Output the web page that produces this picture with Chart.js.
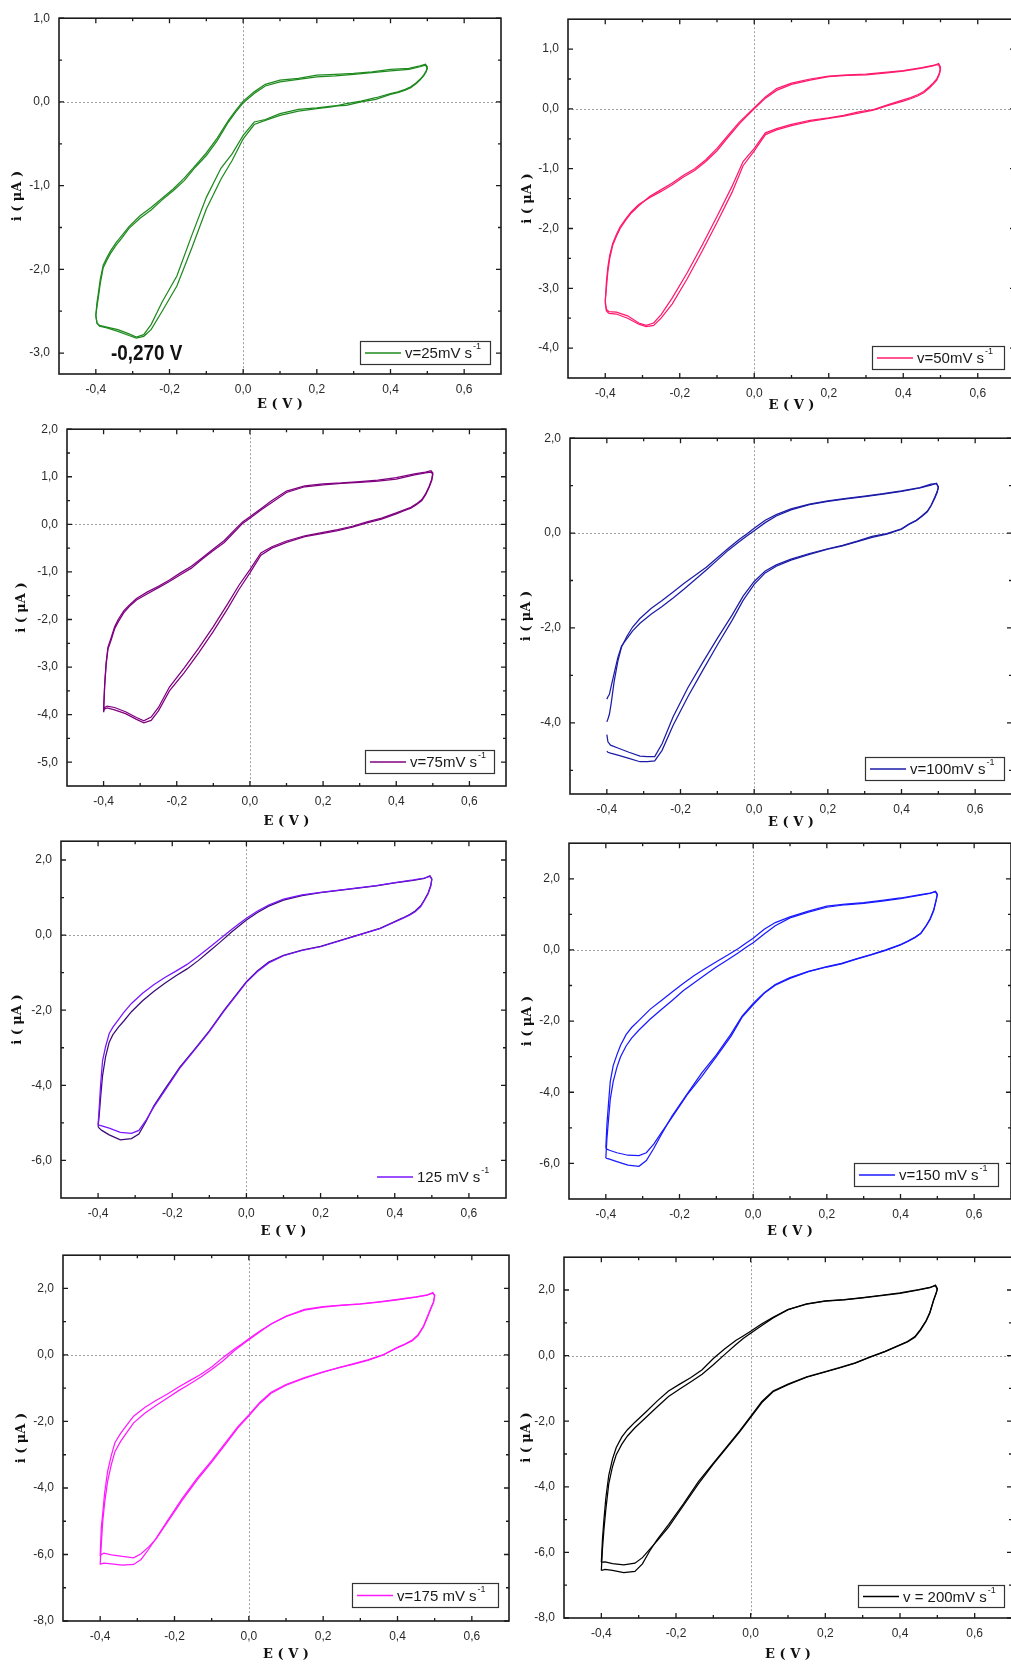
<!DOCTYPE html>
<html>
<head>
<meta charset="utf-8">
<script src="https://cdn.jsdelivr.net/npm/chart.js@4.4.1/dist/chart.umd.min.js"></script>
<style>
html, body { margin: 0; padding: 0; background: #fff; overflow: hidden; width: 1011px; height: 1666px; position: relative; }
canvas { position: absolute; }
</style>
</head>
<body>
<script>
// potential grid (V): forward sweep then reverse sweep
const eFwd = [-0.4, -0.397, -0.393, -0.388, -0.38, -0.37, -0.36, -0.345, -0.33, -0.31, -0.28, -0.25, -0.22, -0.19, -0.16, -0.13, -0.1,
  -0.07, -0.04, -0.02, 0, 0.03, 0.06, 0.1, 0.15, 0.2, 0.25, 0.3, 0.35, 0.4, 0.45, 0.48, 0.495];
const eRev = [0.5, 0.497, 0.49, 0.48, 0.47, 0.455, 0.44, 0.42, 0.4, 0.36, 0.32, 0.28, 0.24, 0.2, 0.15, 0.1, 0.06, 0.03, 0,
  -0.03, -0.06, -0.1, -0.14, -0.18, -0.22, -0.25, -0.27, -0.29, -0.31, -0.34, -0.37, -0.39, -0.397, -0.4];
const eLoop = eFwd.concat(eRev);

const xTicks = [-0.4, -0.2, 0, 0.2, 0.4, 0.6];
const xMinor = [-0.3, -0.1, 0.1, 0.3, 0.5];

// current (uA), two cycles per scan rate
const i25a = [-2.55,-2.45,-2.33,-2.17,-1.98,-1.89,-1.81,-1.71,-1.63,-1.51,-1.39,-1.29,-1.17,-1.06,-0.94,-0.78,-0.64,-0.46,-0.24,-0.12,-0.01,0.10,0.19,0.24,0.27,0.30,0.31,0.33,0.35,0.37,0.39,0.42,0.44,
  0.40,0.36,0.31,0.26,0.22,0.17,0.14,0.11,0.09,0.03,0.0,-0.04,-0.05,-0.07,-0.09,-0.14,-0.21,-0.24,-0.40,-0.62,-0.79,-1.14,-1.60,-2.08,-2.39,-2.66,-2.78,-2.81,-2.77,-2.72,-2.69,-2.67,-2.64,-2.55];
const i25b = [-2.55,-2.40,-2.28,-2.12,-1.95,-1.86,-1.78,-1.68,-1.60,-1.49,-1.36,-1.26,-1.15,-1.04,-0.91,-0.76,-0.61,-0.43,-0.22,-0.10,0.01,0.12,0.21,0.26,0.28,0.32,0.33,0.34,0.36,0.39,0.40,0.43,0.45,
  0.42,0.37,0.32,0.27,0.23,0.18,0.15,0.12,0.10,0.05,0.01,-0.02,-0.06,-0.08,-0.11,-0.16,-0.22,-0.27,-0.44,-0.70,-0.92,-1.28,-1.75,-2.20,-2.50,-2.72,-2.80,-2.82,-2.79,-2.74,-2.70,-2.68,-2.64,-2.55];

const i50a = [-3.20,-3.00,-2.72,-2.50,-2.28,-2.13,-2.00,-1.86,-1.74,-1.62,-1.46,-1.35,-1.24,-1.11,-1.00,-0.85,-0.66,-0.44,-0.22,-0.10,0.02,0.20,0.34,0.43,0.50,0.55,0.57,0.58,0.61,0.64,0.69,0.73,0.74,
  0.66,0.58,0.48,0.41,0.35,0.27,0.22,0.17,0.13,0.06,-0.02,-0.07,-0.12,-0.16,-0.21,-0.28,-0.35,-0.43,-0.70,-0.95,-1.40,-1.90,-2.38,-2.84,-3.26,-3.50,-3.62,-3.64,-3.60,-3.50,-3.43,-3.42,-3.38,-3.20];
const i50b = [-3.25,-2.90,-2.65,-2.45,-2.25,-2.10,-1.97,-1.84,-1.72,-1.60,-1.48,-1.38,-1.27,-1.14,-1.03,-0.88,-0.70,-0.47,-0.25,-0.12,0.0,0.18,0.31,0.41,0.48,0.54,0.56,0.57,0.60,0.63,0.68,0.72,0.76,
  0.70,0.60,0.50,0.43,0.37,0.29,0.24,0.19,0.15,0.07,-0.01,-0.05,-0.11,-0.15,-0.19,-0.26,-0.33,-0.40,-0.66,-0.88,-1.30,-1.80,-2.28,-2.74,-3.16,-3.44,-3.58,-3.62,-3.58,-3.46,-3.40,-3.39,-3.35,-3.25];

const i75a = [-3.90,-3.40,-2.95,-2.62,-2.45,-2.20,-2.05,-1.86,-1.73,-1.59,-1.46,-1.33,-1.20,-1.06,-0.92,-0.73,-0.55,-0.38,-0.14,0.02,0.13,0.30,0.46,0.67,0.79,0.83,0.86,0.88,0.91,0.95,1.04,1.08,1.10,
  1.05,0.92,0.78,0.62,0.50,0.41,0.34,0.28,0.22,0.11,0.03,-0.06,-0.13,-0.19,-0.26,-0.38,-0.50,-0.65,-1.02,-1.37,-1.76,-2.25,-2.70,-3.12,-3.50,-3.92,-4.12,-4.17,-4.10,-3.98,-3.90,-3.86,-3.88,-3.90];
const i75b = [-3.95,-3.35,-2.90,-2.58,-2.40,-2.16,-2.00,-1.82,-1.70,-1.56,-1.42,-1.30,-1.17,-1.02,-0.88,-0.70,-0.52,-0.34,-0.10,0.05,0.16,0.33,0.50,0.70,0.81,0.85,0.87,0.90,0.93,0.98,1.06,1.10,1.13,
  1.08,0.95,0.80,0.64,0.52,0.43,0.36,0.30,0.24,0.13,0.05,-0.04,-0.11,-0.17,-0.24,-0.35,-0.47,-0.60,-0.95,-1.28,-1.66,-2.15,-2.60,-3.02,-3.42,-3.85,-4.05,-4.13,-4.06,-3.94,-3.85,-3.82,-3.85,-3.95];

const i100a = [-3.98,-3.92,-3.82,-3.58,-3.12,-2.70,-2.40,-2.17,-1.98,-1.80,-1.59,-1.42,-1.24,-1.06,-0.89,-0.72,-0.52,-0.32,-0.13,-0.02,0.10,0.27,0.39,0.51,0.61,0.68,0.73,0.78,0.83,0.89,0.96,1.03,1.04,
  0.98,0.88,0.75,0.58,0.46,0.36,0.27,0.19,0.09,-0.01,-0.07,-0.17,-0.26,-0.33,-0.43,-0.55,-0.67,-0.80,-1.02,-1.33,-1.73,-2.22,-2.73,-3.26,-3.87,-4.44,-4.71,-4.71,-4.70,-4.62,-4.53,-4.47,-4.40,-4.25];
const i100b = [-3.50,-3.45,-3.40,-3.22,-2.95,-2.62,-2.38,-2.22,-2.06,-1.90,-1.71,-1.55,-1.37,-1.18,-0.98,-0.78,-0.57,-0.36,-0.18,-0.06,0.05,0.22,0.36,0.49,0.60,0.67,0.72,0.77,0.82,0.88,0.95,1.01,1.05,
  0.96,0.86,0.73,0.57,0.45,0.35,0.26,0.18,0.08,-0.02,-0.09,-0.18,-0.27,-0.34,-0.45,-0.57,-0.70,-0.84,-1.08,-1.42,-1.84,-2.36,-2.90,-3.45,-4.05,-4.58,-4.80,-4.82,-4.82,-4.75,-4.68,-4.64,-4.62,-4.60];

const i125a = [-5.05,-4.60,-3.95,-3.35,-2.98,-2.62,-2.45,-2.25,-2.05,-1.82,-1.55,-1.32,-1.13,-0.96,-0.78,-0.56,-0.33,-0.09,0.15,0.30,0.45,0.64,0.80,0.96,1.07,1.14,1.20,1.26,1.32,1.40,1.47,1.52,1.56,
  1.48,1.30,1.10,0.92,0.76,0.62,0.53,0.44,0.35,0.17,0.05,-0.07,-0.19,-0.31,-0.41,-0.55,-0.74,-0.97,-1.26,-1.64,-2.02,-2.57,-3.06,-3.55,-4.14,-4.58,-4.92,-5.20,-5.28,-5.25,-5.14,-5.08,-5.06,-5.05];
const i125b = [-5.10,-4.80,-4.30,-3.75,-3.25,-2.85,-2.65,-2.45,-2.28,-2.04,-1.75,-1.50,-1.28,-1.08,-0.90,-0.68,-0.43,-0.18,0.08,0.24,0.40,0.60,0.77,0.93,1.05,1.13,1.19,1.25,1.31,1.39,1.46,1.51,1.58,
  1.50,1.32,1.12,0.94,0.78,0.64,0.55,0.45,0.36,0.18,0.06,-0.06,-0.18,-0.30,-0.40,-0.54,-0.72,-0.95,-1.24,-1.62,-2.00,-2.55,-3.04,-3.52,-4.10,-4.55,-4.95,-5.30,-5.42,-5.45,-5.32,-5.20,-5.14,-5.10];

const i150a = [-5.56,-4.90,-4.35,-3.70,-3.25,-2.95,-2.68,-2.38,-2.18,-1.98,-1.67,-1.43,-1.18,-0.94,-0.72,-0.52,-0.33,-0.15,0.04,0.19,0.33,0.58,0.77,0.93,1.09,1.23,1.29,1.33,1.39,1.46,1.55,1.60,1.63,
  1.55,1.40,1.10,0.85,0.68,0.46,0.35,0.24,0.14,-0.01,-0.14,-0.26,-0.39,-0.48,-0.61,-0.80,-0.99,-1.22,-1.54,-1.89,-2.42,-3.00,-3.56,-4.08,-4.70,-5.15,-5.46,-5.70,-5.78,-5.77,-5.70,-5.63,-5.60,-5.56];
const i150b = [-5.85,-5.30,-4.80,-4.20,-3.70,-3.30,-3.00,-2.70,-2.48,-2.25,-1.95,-1.68,-1.42,-1.15,-0.92,-0.70,-0.48,-0.28,-0.08,0.07,0.20,0.45,0.68,0.90,1.06,1.20,1.27,1.31,1.37,1.44,1.53,1.59,1.65,
  1.57,1.42,1.12,0.87,0.69,0.47,0.36,0.25,0.15,0.0,-0.13,-0.25,-0.38,-0.47,-0.60,-0.78,-0.97,-1.20,-1.50,-1.86,-2.36,-2.95,-3.46,-4.06,-4.66,-5.20,-5.58,-5.92,-6.08,-6.05,-5.95,-5.88,-5.86,-5.85];

const i175a = [-6.05,-5.20,-4.75,-4.15,-3.50,-3.02,-2.63,-2.36,-2.13,-1.84,-1.58,-1.37,-1.18,-0.97,-0.78,-0.59,-0.36,-0.08,0.17,0.32,0.49,0.72,0.93,1.16,1.37,1.45,1.50,1.54,1.60,1.67,1.75,1.81,1.86,
  1.78,1.58,1.40,1.12,0.85,0.58,0.43,0.32,0.22,-0.01,-0.16,-0.28,-0.39,-0.52,-0.70,-0.91,-1.15,-1.45,-1.83,-2.20,-2.64,-3.22,-3.77,-4.38,-5.04,-5.54,-5.78,-5.98,-6.10,-6.06,-6.01,-5.96,-6.00,-6.05];
const i175b = [-6.30,-5.70,-5.00,-4.45,-3.80,-3.30,-2.90,-2.60,-2.36,-2.04,-1.75,-1.52,-1.30,-1.08,-0.88,-0.67,-0.44,-0.18,0.12,0.29,0.46,0.70,0.93,1.16,1.35,1.44,1.49,1.53,1.59,1.66,1.74,1.80,1.88,
  1.80,1.60,1.42,1.14,0.87,0.60,0.45,0.33,0.23,0.0,-0.15,-0.27,-0.39,-0.51,-0.68,-0.89,-1.12,-1.42,-1.80,-2.16,-2.60,-3.18,-3.72,-4.33,-5.00,-5.52,-5.85,-6.15,-6.30,-6.32,-6.28,-6.26,-6.28,-6.30];

const i200a = [-6.30,-5.60,-5.00,-4.35,-3.64,-3.15,-2.80,-2.48,-2.26,-2.03,-1.71,-1.38,-1.08,-0.87,-0.67,-0.43,-0.09,0.20,0.46,0.60,0.74,0.97,1.17,1.40,1.58,1.67,1.71,1.77,1.84,1.91,2.01,2.08,2.13,
  2.02,1.90,1.68,1.30,1.05,0.78,0.56,0.42,0.32,0.12,-0.05,-0.23,-0.37,-0.50,-0.66,-0.89,-1.10,-1.43,-1.88,-2.33,-2.75,-3.31,-3.91,-4.57,-5.23,-5.64,-5.90,-6.16,-6.33,-6.38,-6.34,-6.29,-6.30,-6.30];
const i200b = [-6.55,-5.90,-5.30,-4.70,-3.90,-3.38,-3.02,-2.70,-2.45,-2.20,-1.88,-1.56,-1.25,-1.02,-0.80,-0.57,-0.28,0.03,0.33,0.52,0.68,0.92,1.15,1.40,1.57,1.66,1.70,1.76,1.83,1.90,2.00,2.07,2.15,
  2.04,1.92,1.70,1.32,1.07,0.80,0.58,0.43,0.33,0.13,-0.04,-0.22,-0.36,-0.49,-0.65,-0.87,-1.08,-1.40,-1.85,-2.30,-2.72,-3.28,-3.84,-4.52,-5.15,-5.60,-5.95,-6.35,-6.58,-6.62,-6.55,-6.52,-6.54,-6.55];

// y tick labels (major) and minor ticks
const yTicks25 = [1, 0, -1, -2, -3];
const yMinor25 = [0.5, -0.5, -1.5, -2.5];
const yTicks50 = [1, 0, -1, -2, -3, -4];
const yMinor50 = [0.5, -0.5, -1.5, -2.5, -3.5];
const yTicks75 = [2, 1, 0, -1, -2, -3, -4, -5];
const yMinor75 = [1.5, 0.5, -0.5, -1.5, -2.5, -3.5, -4.5];
const yTicks100 = [2, 0, -2, -4];
const yMinor100 = [1, -1, -3, -5];
const yTicks150 = [2, 0, -2, -4, -6];
const yMinor150 = [1, -1, -3, -5];
const yTicks200 = [2, 0, -2, -4, -6, -8];
const yMinor200 = [1, -1, -3, -5, -7];

const panels = [
  { cycles: [i25a, i25b], color: '#1f8a1f', yMin: -3.25, yMax: 1, yTicks: yTicks25, yMinor: yMinor25, label: 'v=25mV s',
    area: [59, 14, 501, 374], yTitleX: 18, xTitleY: 405, legend: [360, 341, 130, 23, true], note: { text: '-0,270 V', e: -0.262, i: -3.0 } },
  { cycles: [i50a, i50b], color: '#ff1a6e', yMin: -4.5, yMax: 1.5, yTicks: yTicks50, yMinor: yMinor50, label: 'v=50mV s',
    area: [568, 15, 1015, 378], yTitleX: 528, xTitleY: 406, legend: [872, 346, 132, 23, true] },
  { cycles: [i75a, i75b], color: '#800080', yMin: -5.5, yMax: 2, yTicks: yTicks75, yMinor: yMinor75, label: 'v=75mV s',
    area: [67, 425, 506, 786], yTitleX: 22, xTitleY: 822, legend: [365, 750, 129, 23, true] },
  { cycles: [i100a, i100b], color: '#1c1ca8', yMin: -5.5, yMax: 2, yTicks: yTicks100, yMinor: yMinor100, label: 'v=100mV s',
    area: [570, 434, 1012, 794], yTitleX: 527, xTitleY: 823, legend: [865, 757, 139, 23, true] },
  { cycles: [i125a, i125b], color: '#7a14ff', color2: '#3a0a78', yMin: -7, yMax: 2.5, yTicks: yTicks150, yMinor: yMinor100, label: '125 mV s',
    area: [61, 837, 506, 1198], yTitleX: 18, xTitleY: 1232, legend: [372, 1165, 130, 23, false] },
  { cycles: [i150a, i150b], color: '#1a1aff', yMin: -7, yMax: 3, yTicks: yTicks150, yMinor: yMinor150, label: 'v=150 mV s',
    area: [569, 839, 1011, 1199], yTitleX: 528, xTitleY: 1232, legend: [854, 1163, 144, 23, true] },
  { cycles: [i175a, i175b], color: '#ff19ff', yMin: -8, yMax: 3, yTicks: yTicks200, yMinor: yMinor200, label: 'v=175 mV s',
    area: [63, 1251, 509, 1621], yTitleX: 22, xTitleY: 1655, legend: [352, 1583, 146, 24, true] },
  { cycles: [i200a, i200b], color: '#000000', yMin: -8, yMax: 3, yTicks: yTicks200, yMinor: yMinor200, label: 'v = 200mV s',
    area: [564, 1253, 1012, 1618], yTitleX: 527, xTitleY: 1655, legend: [858, 1585, 146, 22, true] }
];

const AXW = 60, AXH = 50, PT = 12, PR = 8;
const TITLE_SIZE = 13, TITLE_LH = TITLE_SIZE * 1.2;
const fmt = v => v.toFixed(1).replace('.', ',');

const framePlugin = {
  id: 'cvFrame',
  beforeDatasetsDraw(chart, args, o) {
    const { ctx, chartArea: a, scales: { x, y } } = chart;
    ctx.save();
    ctx.strokeStyle = '#a0a0a0';
    ctx.lineWidth = 1;
    ctx.setLineDash([2, 2]);
    const px = Math.round(x.getPixelForValue(0)) + 0.5;
    const py = Math.round(y.getPixelForValue(0)) + 0.5;
    ctx.beginPath();
    ctx.moveTo(px, a.top); ctx.lineTo(px, a.bottom);
    ctx.moveTo(a.left, py); ctx.lineTo(a.right, py);
    ctx.stroke();
    ctx.restore();
  },
  afterDatasetsDraw(chart, args, o) {
    const { ctx, chartArea: a, scales: { x, y } } = chart;
    ctx.save();
    ctx.strokeStyle = '#1b1b1b';
    ctx.lineWidth = 1.6;
    ctx.strokeRect(a.left, a.top, a.right - a.left, a.bottom - a.top);
    ctx.lineWidth = 1.3;
    ctx.beginPath();
    const xt = (vals, len) => vals.forEach(v => {
      const p = x.getPixelForValue(v);
      ctx.moveTo(p, a.bottom); ctx.lineTo(p, a.bottom - len);
      ctx.moveTo(p, a.top); ctx.lineTo(p, a.top + len);
    });
    const yt = (vals, len) => vals.forEach(v => {
      const p = y.getPixelForValue(v);
      ctx.moveTo(a.left, p); ctx.lineTo(a.left + len, p);
      ctx.moveTo(a.right, p); ctx.lineTo(a.right - len, p);
    });
    xt(xTicks, 5); xt(xMinor, 3);
    yt(o.yTicks, 5); yt(o.yMinor, 3);
    ctx.stroke();
    ctx.restore();
  },
  afterDraw(chart, args, o) {
    const { ctx, scales: { x, y } } = chart;
    ctx.save();
    // legend
    const [lx, ly, lw, lh, box] = o.legend;
    const bx = lx - o.ox, by = ly - o.oy;
    if (box) {
      ctx.strokeStyle = '#333';
      ctx.lineWidth = 1.2;
      ctx.strokeRect(bx + 0.5, by + 0.5, lw, lh);
    }
    const cy = by + lh / 2 + 0.5;
    ctx.strokeStyle = o.color;
    ctx.lineWidth = 1.5;
    ctx.beginPath();
    ctx.moveTo(bx + 5, cy); ctx.lineTo(bx + 41, cy);
    ctx.stroke();
    ctx.fillStyle = '#1a1a1a';
    ctx.font = '15px "Liberation Sans", Arial, sans-serif';
    ctx.textBaseline = 'middle';
    ctx.textAlign = 'left';
    ctx.fillText(o.label, bx + 45, cy + 1);
    const tw = ctx.measureText(o.label).width;
    ctx.font = '9px "Liberation Sans", Arial, sans-serif';
    ctx.fillText('-1', bx + 45 + tw + 1, cy - 6);
    // peak annotation
    if (o.note) {
      const px = x.getPixelForValue(o.note.e);
      const py = y.getPixelForValue(o.note.i);
      ctx.translate(px, py);
      ctx.scale(0.86, 1);
      ctx.font = 'bold 22px "Liberation Sans", Arial, sans-serif';
      ctx.textAlign = 'center';
      ctx.fillStyle = '#111';
      ctx.fillText(o.note.text, 0, 1);
    }
    ctx.restore();
  }
};

panels.forEach(p => {
  const [l, t, r, b] = p.area;
  const W = AXW + (r - l) + PR;
  const H = PT + (b - t) + AXH;
  const ox = l - AXW, oy = t - PT;
  const cv = document.createElement('canvas');
  cv.width = W; cv.height = H;
  cv.style.left = ox + 'px';
  cv.style.top = oy + 'px';
  cv.style.width = W + 'px';
  cv.style.height = H + 'px';
  document.body.appendChild(cv);

  const yPad = (p.yTitleX - ox) - TITLE_LH / 2;
  const xPad = AXH - TITLE_LH / 2 - (p.xTitleY - b);
  const tickFont = { family: '"Liberation Sans", Arial, sans-serif', size: 12 };
  const titleFont = { family: '"DejaVu Serif", serif', size: TITLE_SIZE, weight: 'bold' };

  new Chart(cv, {
    type: 'scatter',
    data: {
      datasets: p.cycles.map((cyc, k) => ({
        data: eLoop.map((e, i) => ({ x: e, y: cyc[i] })),
        showLine: true,
        borderColor: k === 1 && p.color2 ? p.color2 : p.color,
        borderWidth: 1.25,
        pointRadius: 0,
        tension: 0,
        fill: false
      }))
    },
    options: {
      responsive: false,
      devicePixelRatio: 1,
      animation: false,
      events: [],
      layout: { padding: { left: 0, top: PT, right: PR, bottom: 0 } },
      plugins: {
        legend: { display: false },
        tooltip: { enabled: false },
        cvFrame: { yTicks: p.yTicks, yMinor: p.yMinor, legend: p.legend, label: p.label, color: p.color, note: p.note, ox: ox, oy: oy }
      },
      scales: {
        x: {
          type: 'linear',
          min: -0.5, max: 0.7,
          afterBuildTicks: s => { s.ticks = xTicks.map(v => ({ value: v })); },
          afterFit: s => { s.height = AXH; },
          grid: { display: false, drawTicks: false },
          border: { display: false },
          ticks: { font: tickFont, color: '#2a2a2a', padding: 8, maxRotation: 0, autoSkip: false, callback: v => fmt(v) },
          title: { display: true, text: 'E ( V )', font: titleFont, color: '#111', padding: { top: 0, bottom: xPad } }
        },
        y: {
          type: 'linear',
          min: p.yMin, max: p.yMax,
          afterBuildTicks: s => { s.ticks = p.yTicks.map(v => ({ value: v })); },
          afterFit: s => { s.width = AXW; },
          grid: { display: false, drawTicks: false },
          border: { display: false },
          ticks: { font: tickFont, color: '#2a2a2a', padding: 9, autoSkip: false, callback: v => fmt(v) },
          title: { display: true, text: 'i ( μA )', font: titleFont, color: '#111', padding: { top: yPad, bottom: 0 } }
        }
      }
    },
    plugins: [framePlugin]
  });
});
</script>
</body>
</html>
